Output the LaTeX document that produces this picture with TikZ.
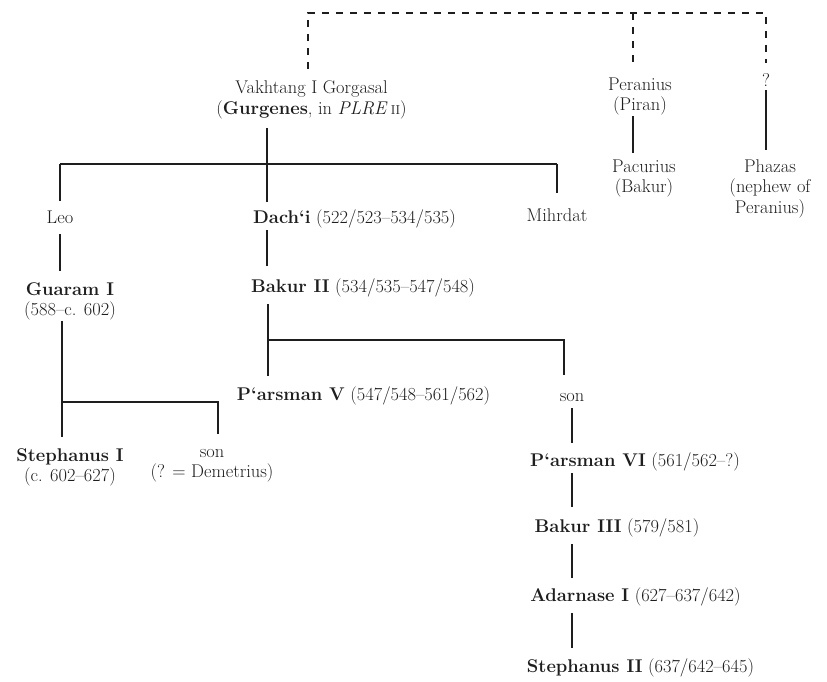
\documentclass[tikz,border=0pt]{standalone}
\usepackage{fontspec}
\definecolor{ink}{HTML}{1E1E1E}
\newcommand\gfont{\fontsize{18.4pt}{20.5pt}\selectfont}
\newcommand\smallcapsii{{\fontsize{12.9pt}{14pt}\selectfont II}}
\tikzset{
  person/.style={inner sep=0pt, outer sep=0pt, align=center, text=ink, font=\gfont},
  oneline/.style={person, text height=12.5pt, text depth=4pt},
  link/.style={draw=ink, line width=1.7pt, shorten <=4pt, shorten >=12pt},
  tie/.style={draw=ink, line width=1.2pt, dash pattern=on 7pt off 7pt},
}
\begin{document}
\begin{tikzpicture}[x=1pt, y=-1pt]
\useasboundingbox[fill=white] (0,0) rectangle (827,682);

% junction points of the family lines
\coordinate (jl) at (308,13);
\coordinate (jp) at (633,13);
\coordinate (jr) at (766,13);
\coordinate (jv) at (267,164);
\coordinate (jb) at (268,340);
\coordinate (js) at (564,340);
\coordinate (jg) at (62,402);
\coordinate (jg2) at (218,402);

% people
\node[person] (vakhtang) at (311.5,100) {Vakhtang I Gorgasal\\(\textbf{Gurgenes}, in \textit{PLRE}\,\smallcapsii)};
\node[person] (peranius) at (640,96.5) {Peranius\\(Piran)};
\node[person] (pacurius) at (644,178.5) {Pacurius\\(Bakur)};
\node[oneline] (qmark) at (766,82) {?};
\node[person] (phazas) at (770,188.5) {Phazas\\(nephew of\\Peranius)};

\node[oneline] (leo) at (60,219) {Leo};
\node[oneline] (dachi) at (354.5,219) {\textbf{Dach‘i} (522/523–534/535)};
\node[oneline] (mihrdat) at (557,217) {Mihrdat};

\node[person] (guaram) at (70,301.5) {\textbf{Guaram I}\\(588–c. 602)};
\node[oneline] (bakurii) at (363,288) {\textbf{Bakur II} (534/535–547/548)};

\node[oneline] (parsmanv) at (363.5,396) {\textbf{P‘arsman V} (547/548–561/562)};
\node[oneline] (sonr) at (572,397) {son};

\node[person] (stephanusi) at (70,467.5) {\textbf{Stephanus I}\\(c. 602–627)};
\node[person] (sonl) at (212,465.5) {son\\(? = Demetrius)};

\node[oneline] (parsmanvi) at (635,462) {\textbf{P‘arsman VI} (561/562–?)};
\node[oneline] (bakuriii) at (617,528) {\textbf{Bakur III} (579/581)};
\node[oneline] (adarnase) at (635.5,597) {\textbf{Adarnase I} (627–637/642)};
\node[oneline] (stephanusii) at (640.5,668) {\textbf{Stephanus II} (637/642–645)};

% uncertain relationship (dashed)
\draw[tie, shorten <=12pt, shorten >=11pt] (vakhtang.north -| jl) -- (jl) -- (jr) -- (qmark.north);
\draw[tie, shorten >=14pt] (jp) -- (peranius.north -| jp);

% descent lines
\draw[link, shorten <=1pt, shorten >=7pt] (peranius.south -| jp) -- (pacurius.north -| jp);
\draw[link, shorten <=0pt, shorten >=9pt] (qmark.south) -- (phazas.north -| qmark.south);

\draw[link, shorten <=9pt, shorten >=9pt] (vakhtang.south -| jv) -- (dachi.north -| jv);
\draw[link, shorten <=0pt, shorten >=0pt] (leo.north |- jv) -- (mihrdat.north |- jv);
\draw[link, shorten <=0pt, shorten >=10pt] (leo.north |- jv) -- (leo.north);
\draw[link, shorten <=0pt, shorten >=16pt] (mihrdat.north |- jv) -- (mihrdat.north);

\draw[link, shorten <=7pt] (leo.south) -- (guaram.north -| leo.south);
\draw[link, shorten <=3pt, shorten >=14pt] (dachi.south -| jv) -- (bakurii.north -| jv);

\draw[link, shorten <=1pt] (guaram.south -| jg) -- (stephanusi.north -| jg);
\draw[link, shorten <=0pt, shorten >=15pt] (jg) -- (jg2) -- (sonl.north -| jg2);

\draw[link, shorten <=8pt] (bakurii.south -| jb) -- (parsmanv.north -| jb);
\draw[link, shorten <=0pt, shorten >=14pt] (jb) -- (js) -- (sonr.north -| js);

\draw[link, shorten <=3pt, shorten >=11pt] (sonr.south) -- (parsmanvi.north -| sonr.south);
\draw[link, shorten <=3pt, shorten >=13pt] (parsmanvi.south -| sonr.south) -- (bakuriii.north -| sonr.south);
\draw[link, shorten <=8pt, shorten >=11pt] (bakuriii.south -| sonr.south) -- (adarnase.north -| sonr.south);
\draw[link, shorten <=8pt, shorten >=12pt] (adarnase.south -| sonr.south) -- (stephanusii.north -| sonr.south);
\end{tikzpicture}
\end{document}
